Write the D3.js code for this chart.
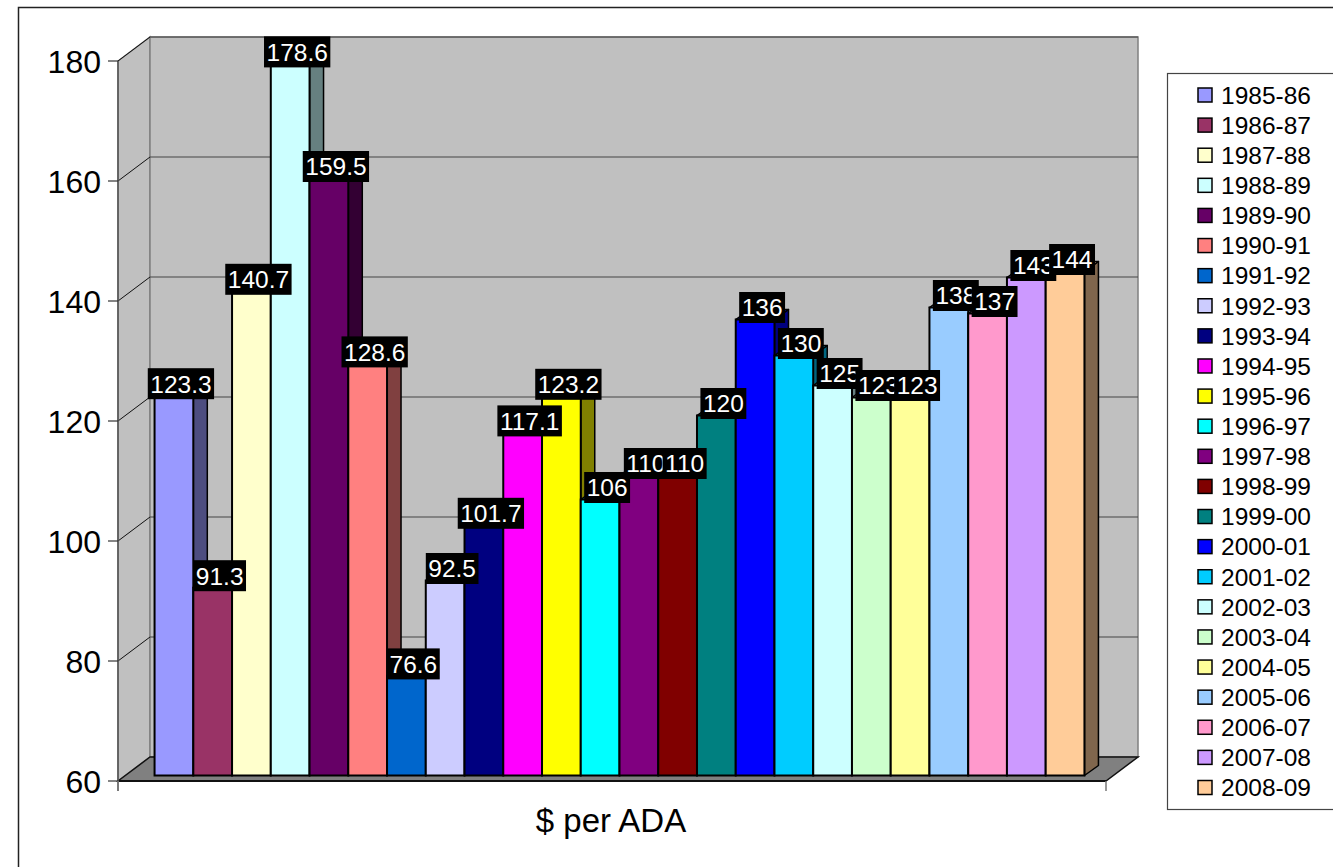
<!DOCTYPE html>
<html>
<head>
<meta charset="utf-8">
<script src="https://cdn.jsdelivr.net/npm/d3@7"></script>
<style>
  html, body { margin: 0; padding: 0; background: #fff; }
  svg { display: block; font-family: "Liberation Sans", Arial, sans-serif; }
</style>
</head>
<body>
<svg id="chart" width="1333" height="867"></svg>
<script>
// School years shown as separate series
const seasons = [
  "1985-86", "1986-87", "1987-88", "1988-89", "1989-90", "1990-91",
  "1991-92", "1992-93", "1993-94", "1994-95", "1995-96", "1996-97",
  "1997-98", "1998-99", "1999-00", "2000-01", "2001-02", "2002-03",
  "2003-04", "2004-05", "2005-06", "2006-07", "2007-08", "2008-09"
];

// Dollars per ADA for each year
const dollarsPerADA = [
  123.3, 91.3, 140.7, 178.6, 159.5, 128.6,
  76.6, 92.5, 101.7, 117.1, 123.2, 106,
  110, 110, 120, 136, 130, 125,
  123, 123, 138, 137, 143, 144
];

// Series fill colours
const seriesColors = [
  "#9999FF", "#993366", "#FFFFCC", "#CCFFFF", "#660066", "#FF8080",
  "#0066CC", "#CCCCFF", "#000080", "#FF00FF", "#FFFF00", "#00FFFF",
  "#800080", "#800000", "#008080", "#0000FF", "#00CCFF", "#CCFFFF",
  "#CCFFCC", "#FFFF99", "#99CCFF", "#FF99CC", "#CC99FF", "#FFCC99"
];

const yTicks = [60, 80, 100, 120, 140, 160, 180];
const categoryLabel = "$ per ADA";

const svg = d3.select("#chart");

// Plot box geometry (front plane) and 3-D depth offsets
const plotL = 118, plotR = 1106, plotT = 61, plotB = 781;
const DX = 32, DY = -24;          // full wall depth
const FX = 7.5, FY = -5.5;        // front face of the columns
const BX = 14, BY = -10;          // column depth

const y = d3.scaleLinear().domain([60, 180]).range([plotB, plotT]);
const x = d3.scaleBand().domain(seasons)
  .range([plotL + FX, plotR + FX])
  .paddingInner(0).paddingOuter(0.75);

const shade = (c, k) => {
  const r = d3.rgb(c);
  return d3.rgb(r.r * k, r.g * k, r.b * k).formatHex();
};

// Outer chart frame
svg.append("rect")
  .attr("x", 18.5).attr("y", 7.5)
  .attr("width", 1400).attr("height", 1000)
  .attr("fill", "none").attr("stroke", "#222").attr("stroke-width", 1.5);

// Walls
const walls = svg.append("g");
walls.append("polygon")
  .attr("points", [[plotL, plotT], [plotL + DX, plotT + DY], [plotL + DX, plotB + DY], [plotL, plotB]].join(" "))
  .attr("fill", "#C0C0C0").attr("stroke", "#808080").attr("stroke-width", 1.5);
walls.append("rect")
  .attr("x", plotL + DX).attr("y", plotT + DY)
  .attr("width", plotR - plotL).attr("height", plotB - plotT)
  .attr("fill", "#C0C0C0").attr("stroke", "#808080").attr("stroke-width", 1.5);

// Gridlines on the side and back walls
const grid = svg.append("g");
yTicks.filter(t => t > 60).forEach(t => {
  grid.append("line")
    .attr("x1", plotL).attr("y1", y(t))
    .attr("x2", plotL + DX).attr("y2", y(t) + DY)
    .attr("stroke", "#111").attr("stroke-width", 1);
  grid.append("line")
    .attr("x1", plotL + DX).attr("y1", y(t) + DY)
    .attr("x2", plotR + DX).attr("y2", y(t) + DY)
    .attr("stroke", "#444").attr("stroke-width", 1.2);
});

// Floor
svg.append("polygon")
  .attr("points", [[plotL, plotB], [plotL + DX, plotB + DY], [plotR + DX, plotB + DY], [plotR, plotB]].join(" "))
  .attr("fill", "#808080").attr("stroke", "#111").attr("stroke-width", 1.5);
svg.append("line")
  .attr("x1", plotL).attr("y1", plotB).attr("x2", plotR).attr("y2", plotB)
  .attr("stroke", "#111").attr("stroke-width", 2);

// Value axis
const axisG = svg.append("g");
axisG.append("line")
  .attr("x1", plotL).attr("y1", plotT).attr("x2", plotL).attr("y2", plotB + 10)
  .attr("stroke", "#555").attr("stroke-width", 1.5);
axisG.selectAll("line.tick").data(yTicks).join("line")
  .attr("class", "tick")
  .attr("x1", plotL - 10).attr("x2", plotL)
  .attr("y1", d => y(d)).attr("y2", d => y(d))
  .attr("stroke", "#333").attr("stroke-width", 1.2);
axisG.selectAll("text").data(yTicks).join("text")
  .attr("x", plotL - 17).attr("y", d => y(d))
  .attr("dy", "0.36em")
  .attr("text-anchor", "end")
  .attr("font-size", 32)
  .attr("fill", "#000")
  .text(d => d);

// Category axis ticks
[plotL, plotR].forEach(px => {
  svg.append("line")
    .attr("x1", px).attr("x2", px).attr("y1", plotB).attr("y2", plotB + 10)
    .attr("stroke", "#777").attr("stroke-width", 1.5);
});
svg.append("text")
  .attr("x", 611).attr("y", 832)
  .attr("text-anchor", "middle")
  .attr("font-size", 33)
  .text(categoryLabel);

// Columns
const rows = seasons.map((s, i) => ({ season: s, value: dollarsPerADA[i], color: seriesColors[i] }));
const base = y(60) + FY;
const bars = svg.append("g");
rows.forEach(d => {
  const x0 = x(d.season), x1 = x0 + x.bandwidth();
  const yt = y(d.value) + FY;
  const g = bars.append("g");
  // right side
  g.append("polygon")
    .attr("points", [[x1, yt], [x1 + BX, yt + BY], [x1 + BX, base + BY], [x1, base]].join(" "))
    .attr("fill", shade(d.color, 0.5)).attr("stroke", "#000").attr("stroke-width", 1.5)
    .attr("stroke-linejoin", "round");
  // top
  g.append("polygon")
    .attr("points", [[x0, yt], [x0 + BX, yt + BY], [x1 + BX, yt + BY], [x1, yt]].join(" "))
    .attr("fill", shade(d.color, 0.8)).attr("stroke", "#000").attr("stroke-width", 1.5)
    .attr("stroke-linejoin", "round");
  // front
  g.append("rect")
    .attr("x", x0).attr("y", yt)
    .attr("width", x.bandwidth()).attr("height", base - yt)
    .attr("fill", d.color).attr("stroke", "#000").attr("stroke-width", 2);
});

// Data labels: white text on black boxes
const labels = svg.append("g");
rows.forEach(d => {
  const cx = x(d.season) + x.bandwidth() / 2 + 7;
  const cy = y(d.value) + FY - 12;
  const g = labels.append("g");
  const box = g.append("rect").attr("fill", "#000");
  const t = g.append("text")
    .attr("x", cx).attr("y", cy)
    .attr("dy", "0.36em")
    .attr("text-anchor", "middle")
    .attr("font-size", 24.5)
    .attr("fill", "#fff")
    .text(String(d.value));
  const w = t.node().getComputedTextLength() + 5;
  const h = 31;
  box.attr("x", cx - w / 2).attr("y", cy - h / 2).attr("width", w).attr("height", h);
});

// Legend
const legend = svg.append("g");
legend.append("rect")
  .attr("x", 1167.5).attr("y", 73.5)
  .attr("width", 300).attr("height", 736)
  .attr("fill", "#fff").attr("stroke", "#444").attr("stroke-width", 1.2);
const ly = d3.scalePoint().domain(seasons).range([95, 787.5]);
rows.forEach(d => {
  const cy = ly(d.season);
  legend.append("rect")
    .attr("x", 1198).attr("y", cy - 7)
    .attr("width", 14).attr("height", 14)
    .attr("fill", d.color).attr("stroke", "#000").attr("stroke-width", 1.5);
  legend.append("text")
    .attr("x", 1221).attr("y", cy)
    .attr("dy", "0.36em")
    .attr("font-size", 24.5)
    .text(d.season);
});
</script>
</body>
</html>
